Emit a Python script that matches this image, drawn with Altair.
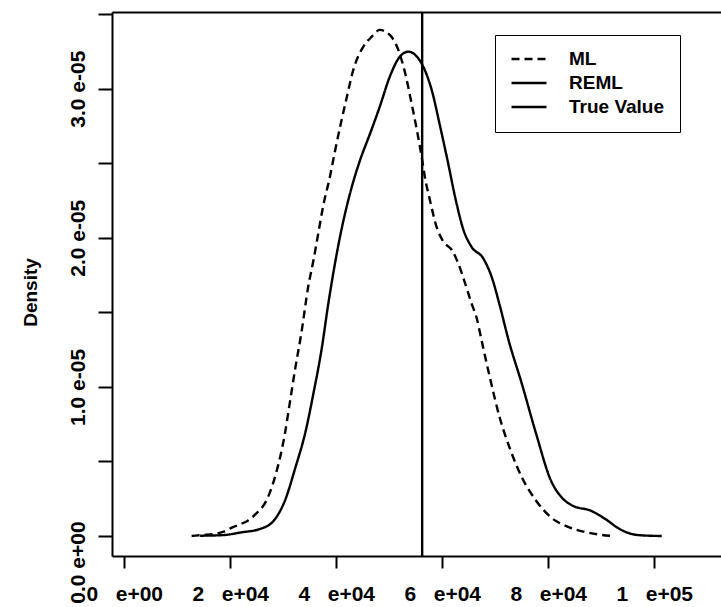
import altair as alt
import pandas as pd

# ---- data ----
series_names = ["ML", "REML", "True Value"]

ml_x = [12700, 14900, 16700, 18600, 20500, 22000, 23300, 24800, 26800, 28600,
        30300, 31300, 32300, 33400, 34700, 35700, 36600, 37500, 38800, 39800,
        41000, 42000, 43200, 45100, 46700, 48200, 50100, 51700, 53000, 54200,
        55200, 56100, 56700, 57700, 58900, 60200, 61800, 63000, 64300, 65500,
        66500, 67400, 69100, 70800, 72900, 75000, 77700, 80500, 83500, 87300,
        91800]
ml_density = [0.000e-05, 0.007e-05, 0.013e-05, 0.027e-05, 0.060e-05, 0.081e-05,
              0.103e-05, 0.148e-05, 0.237e-05, 0.417e-05, 0.686e-05, 0.910e-05,
              1.134e-05, 1.359e-05, 1.672e-05, 1.851e-05, 2.030e-05, 2.209e-05,
              2.410e-05, 2.589e-05, 2.790e-05, 2.946e-05, 3.125e-05, 3.282e-05,
              3.349e-05, 3.394e-05, 3.360e-05, 3.260e-05, 3.103e-05, 2.902e-05,
              2.723e-05, 2.544e-05, 2.410e-05, 2.247e-05, 2.075e-05, 1.974e-05,
              1.918e-05, 1.829e-05, 1.695e-05, 1.561e-05, 1.460e-05, 1.314e-05,
              1.044e-05, 0.798e-05, 0.573e-05, 0.394e-05, 0.237e-05, 0.125e-05,
              0.065e-05, 0.024e-05, 0.001e-05]

reml_x = [14300, 18600, 22000, 25500, 28200, 30300, 32300, 34100, 35800, 37200,
          38500, 40700, 42600, 44500, 46400, 48200, 50100, 52000, 53600, 55200,
          56400, 58000, 59600, 61100, 62400, 64000, 65500, 67700, 69300, 70900,
          72500, 75000, 77700, 80500, 82500, 84600, 88000, 90800, 93500, 97000,
          101400]
reml_density = [0.002e-05, 0.006e-05, 0.024e-05, 0.046e-05, 0.103e-05, 0.237e-05,
                0.461e-05, 0.686e-05, 0.977e-05, 1.246e-05, 1.560e-05, 2.007e-05,
                2.299e-05, 2.522e-05, 2.701e-05, 2.879e-05, 3.081e-05, 3.215e-05,
                3.248e-05, 3.215e-05, 3.148e-05, 2.991e-05, 2.745e-05, 2.500e-05,
                2.276e-05, 2.052e-05, 1.940e-05, 1.863e-05, 1.739e-05, 1.538e-05,
                1.314e-05, 1.022e-05, 0.686e-05, 0.372e-05, 0.260e-05, 0.203e-05,
                0.170e-05, 0.113e-05, 0.046e-05, 0.006e-05, 0.000e-05]

true_value = [56200]

x_tick_values = [0, 20000, 40000, 60000, 80000, 100000]
x_tick_labels = ["0 e+00", "2 e+04", "4 e+04", "6 e+04", "8 e+04", "1 e+05"]
y_tick_values = [0, 5e-06, 1e-05, 1.5e-05, 2e-05, 2.5e-05, 3e-05, 3.5e-05]
y_label_values = [0, 1e-05, 2e-05, 3e-05]
y_tick_labels = ["0.0 e+00", "1.0 e-05", "2.0 e-05", "3.0 e-05"]

x_domain = [-2321, 112585]
y_domain = [-1.34e-06, 3.514e-05]

# ---- tables ----
curves = pd.DataFrame(
    {"x": ml_x + reml_x,
     "density": ml_density + reml_density,
     "series": ["ML"] * len(ml_x) + ["REML"] * len(reml_x)}
)
truth = pd.DataFrame({"x": true_value, "series": ["True Value"] * len(true_value)})

FONT = "Liberation Sans"
WEIGHT = "bold"
AXIS_FS = 21
NB = "\u00a0"


def label_expr(values, labels, gap=" "):
    expr = "''"
    for v, lab in reversed(list(zip(values, labels))):
        lab = lab.replace(" ", gap)
        expr = f"abs(datum.value - ({v})) < {abs(v) * 1e-6 + 1e-12} ? '{lab}' : ({expr})"
    return expr


x_scale = alt.Scale(domain=x_domain, nice=False, zero=False)
y_scale = alt.Scale(domain=y_domain, nice=False, zero=False)

dash_scale = alt.Scale(domain=series_names, range=[[8, 5], [1, 0], [1, 0]])
width_scale = alt.Scale(domain=series_names, range=[2.4, 2.4, 1.5])

legend = alt.Legend(
    title=None, orient="none", legendX=383, legendY=23,
    symbolType="stroke", symbolSize=1225, symbolStrokeColor="black",
    labelFont=FONT, labelFontSize=19, labelFontWeight=WEIGHT, labelColor="black",
    labelOffset=21, clipHeight=18, rowPadding=5, padding=15,
    strokeColor="black", fillColor="white",
)

x_axis = alt.Axis(
    values=x_tick_values, labelExpr=label_expr(x_tick_values, x_tick_labels, NB * 3),
    title=None, domain=True, domainColor="black", domainWidth=2,
    ticks=True, tickColor="black", tickWidth=2, tickSize=12,
    labelFont=FONT, labelFontSize=AXIS_FS, labelFontWeight=WEIGHT, labelColor="black",
    labelPadding=15, labelFlush=False, labelOverlap=False, grid=False,
)

y_axis = alt.Axis(
    values=y_tick_values, labelExpr=label_expr(y_label_values, y_tick_labels, NB),
    title="Density", titleFont=FONT, titleFontSize=19, titleFontWeight=WEIGHT,
    titleColor="black", titleAngle=270, titleAlign="center", titleBaseline="bottom",
    titleX=-72, titleY=280,
    domain=True, domainColor="black", domainWidth=2,
    ticks=True, tickColor="black", tickWidth=2, tickSize=14,
    labelFont=FONT, labelFontSize=AXIS_FS, labelFontWeight=WEIGHT, labelColor="black",
    labelPadding=10, labelAngle=270, labelAlign="center", labelBaseline="bottom",
    labelOffset={"condition": {"test": "datum.value == 0", "value": 26}, "value": 0},
    labelFlush=False, labelOverlap=False, grid=False,
)

lines = alt.Chart(curves).mark_line(color="black", interpolate="monotone").encode(
    x=alt.X("x:Q", scale=x_scale, axis=x_axis),
    y=alt.Y("density:Q", scale=y_scale, axis=y_axis),
    strokeDash=alt.StrokeDash("series:N", scale=dash_scale, legend=legend),
    strokeWidth=alt.StrokeWidth("series:N", scale=width_scale, legend=legend),
    detail="series:N",
)

rule = alt.Chart(truth).mark_rule(color="black").encode(
    x=alt.X("x:Q", scale=x_scale,
            axis=alt.Axis(orient="top", labels=False, ticks=False, title=None,
                          domain=True, domainColor="black", domainWidth=2, grid=False)),
    strokeDash=alt.StrokeDash("series:N", scale=dash_scale, legend=legend),
    strokeWidth=alt.StrokeWidth("series:N", scale=width_scale, legend=legend),
)

chart = (
    alt.layer(lines, rule)
    .resolve_axis(x="independent")
    .properties(
        width=609, height=544,
        autosize=alt.AutoSizeParams(type="none"),
        padding={"left": 112, "top": 12, "right": 0, "bottom": 51},
        background="white",
    )
    .configure_view(strokeWidth=0)
)

chart.save("out.html", embed_options={"renderer": "svg", "actions": False})
